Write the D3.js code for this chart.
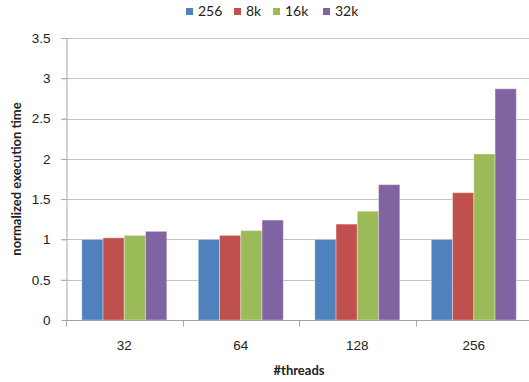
<!DOCTYPE html>
<html>
<head>
<meta charset="utf-8" />
<title></title>
<style>
    body { margin: 0; background: #fff; }
    svg { display: block; font-family: Lato, "Liberation Sans", sans-serif; }
    .grid line { stroke: #c4c4c4; stroke-width: 1px; }
    .axis path, .axis line { stroke: #a6a6a6; stroke-width: 1px; }
    .axis text { fill: #222; font-size: 13.5px; }
</style>
</head>
<body>
<div id="container"></div>
<script src="https://cdn.jsdelivr.net/npm/d3@7"></script>
<script>
var threads = ["32", "64", "128", "256"];
var seriesNames = ["256", "8k", "16k", "32k"];
var colors = ["#4f81bd", "#c0504d", "#9bbb59", "#8064a2"];
// values per series, one per thread count
var s256 = [1, 1, 1, 1];
var s8k = [1.02, 1.05, 1.19, 1.58];
var s16k = [1.05, 1.11, 1.35, 2.06];
var s32k = [1.10, 1.24, 1.68, 2.87];
var yTicks = [0, 0.5, 1, 1.5, 2, 2.5, 3, 3.5];

var allSeries = [s256, s8k, s16k, s32k];

var width = 529,
    height = 382,
    plotLeft = 66, plotTop = 38, plotBottom = 320, plotRight = 532;

var svg = d3.select("#container")
    .append("svg")
    .attr("width", width)
    .attr("height", height);

var x = d3.scaleBand()
    .domain(threads)
    .range([plotLeft, plotRight]);

var inner = d3.scaleBand()
    .domain(seriesNames)
    .range([15.8, 100.8]);

var y = d3.scaleLinear()
    .domain([0, 3.5])
    .range([plotBottom, plotTop]);

// gridlines
svg.append("g")
    .attr("class", "grid")
    .selectAll("line")
    .data(yTicks.slice(1))
    .enter()
    .append("line")
    .attr("x1", plotLeft - 5)
    .attr("x2", width)
    .attr("y1", d => Math.round(y(d)) + 0.5)
    .attr("y2", d => Math.round(y(d)) + 0.5);

// bars
var groups = svg.selectAll(".grp")
    .data(threads)
    .enter()
    .append("g")
    .attr("transform", d => "translate(" + x(d) + ",0)");

groups.selectAll("rect")
    .data((t, i) => seriesNames.map((s, j) => ({ s: s, v: allSeries[j][i], c: colors[j] })))
    .enter()
    .append("rect")
    .attr("x", d => inner(d.s))
    .attr("width", inner.bandwidth())
    .attr("y", d => y(d.v))
    .attr("height", d => y(0) - y(d.v))
    .attr("fill", d => d.c)
    .attr("stroke", "rgba(255,255,255,0.35)")
    .attr("stroke-width", 1);

// y axis
var yAxis = d3.axisLeft(y)
    .tickValues(yTicks)
    .tickFormat(d3.format("~g"))
    .tickSize(5)
    .tickSizeOuter(0)
    .tickPadding(11);

svg.append("g")
    .attr("class", "axis")
    .attr("transform", "translate(" + (plotLeft + 0.5) + ",0)")
    .call(yAxis);

// x axis
var xAxis = d3.axisBottom(x)
    .tickSize(0)
    .tickPadding(20);

var xg = svg.append("g")
    .attr("class", "axis")
    .attr("transform", "translate(0," + (plotBottom + 0.5) + ")")
    .call(xAxis);
xg.select(".domain").attr("d", "M" + plotLeft + ",0H" + plotRight);

// category boundary ticks
xg.selectAll(".sep")
    .data(threads.concat(["end"]))
    .enter()
    .append("line")
    .attr("x1", (d, i) => Math.round(plotLeft + i * x.bandwidth()) + 0.5)
    .attr("x2", (d, i) => Math.round(plotLeft + i * x.bandwidth()) + 0.5)
    .attr("y1", 0)
    .attr("y2", 6);

// axis titles
svg.append("text")
    .attr("x", 299)
    .attr("y", 375)
    .attr("text-anchor", "middle")
    .attr("font-weight", "bold")
    .attr("font-size", "13px")
    .attr("fill", "#222")
    .text("#threads");

svg.append("text")
    .attr("transform", "translate(21,179) rotate(-90)")
    .attr("text-anchor", "middle")
    .attr("font-weight", "bold")
    .attr("font-size", "13px")
    .attr("fill", "#222")
    .text("normalized execution time");

// legend
var legendX = [186, 234, 273, 323];
var legend = svg.selectAll(".leg")
    .data(seriesNames)
    .enter()
    .append("g")
    .attr("transform", (d, i) => "translate(" + legendX[i] + ",8)");
legend.append("rect")
    .attr("width", 7)
    .attr("height", 7)
    .attr("fill", (d, i) => colors[i]);
legend.append("text")
    .attr("x", 12)
    .attr("y", 8)
    .attr("font-size", "14px")
    .attr("fill", "#222")
    .text(d => d);
</script>
</body>
</html>
